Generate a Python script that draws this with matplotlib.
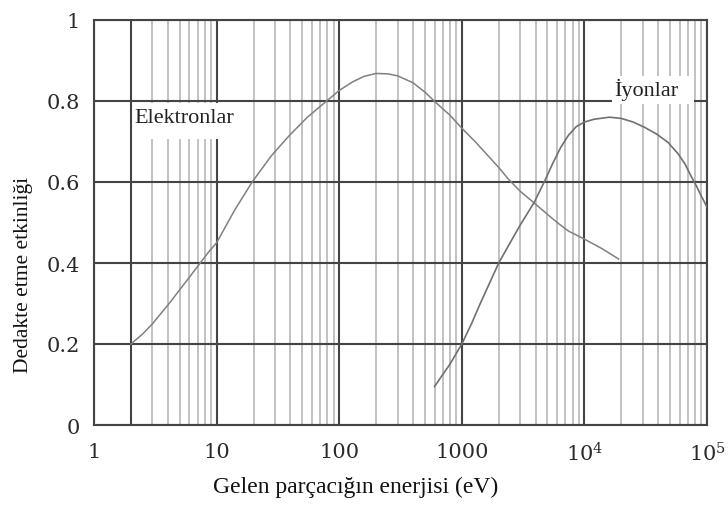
import matplotlib
matplotlib.use("Agg")
import matplotlib.pyplot as plt
from matplotlib.ticker import FixedLocator, FixedFormatter, LogLocator, NullFormatter
from matplotlib.patches import Rectangle

plt.rcParams['mathtext.fontset'] = 'dejavuserif'

# detection efficiency curves (energy in eV)
elektron_E = [2, 2.5, 3, 4.1, 6, 8.6, 10, 14, 19.5, 28, 39, 55, 79, 100, 130,
              160, 200, 250, 300, 400, 500, 610, 800, 1000, 1300, 1600, 2000,
              2400, 3000, 3900, 5000, 6000, 7400, 10000, 14000, 19000]
elektron_eff = [0.20, 0.225, 0.25, 0.30, 0.365, 0.427, 0.45, 0.53, 0.60, 0.665,
                0.714, 0.76, 0.80, 0.826, 0.848, 0.861, 0.868, 0.867, 0.862,
                0.845, 0.822, 0.797, 0.765, 0.733, 0.698, 0.668, 0.636, 0.607,
                0.577, 0.548, 0.52, 0.50, 0.479, 0.459, 0.435, 0.41]

iyon_E = [600, 700, 800, 1000, 1200, 1400, 1700, 2000, 2500, 3000, 3900, 4700,
          5500, 6400, 7400, 8600, 10000, 12000, 16000, 20000, 25000, 31000,
          39000, 48000, 58000, 66000, 74000, 82000, 90000, 100000]
iyon_eff = [0.095, 0.125, 0.15, 0.20, 0.25, 0.297, 0.353, 0.40, 0.452, 0.494,
            0.55, 0.60, 0.645, 0.685, 0.715, 0.737, 0.748, 0.755, 0.76, 0.757,
            0.748, 0.735, 0.718, 0.698, 0.67, 0.645, 0.615, 0.59, 0.565, 0.538]

x_ticks = [1, 10, 100, 1000, 1e4, 1e5]
x_labels = ['1', '10', '100', '1000', r'$10^4$', r'$10^5$']
y_ticks = [0, 0.2, 0.4, 0.6, 0.8, 1.0]
y_labels = ['0', '0.2', '0.4', '0.6', '0.8', '1']

fig = plt.figure(figsize=(7.28, 5.06), dpi=100)
ax = fig.add_axes([94 / 728, 1 - 426 / 506, 613 / 728, 405 / 506])
ax.set_xscale('log')
ax.set_xlim(1, 1e5)
ax.set_ylim(0, 1)

# grid: light minor verticals, dark decades and 0.2 steps
ax.xaxis.set_minor_locator(LogLocator(base=10, subs=range(2, 10)))
ax.xaxis.set_minor_formatter(NullFormatter())
ax.grid(which='minor', axis='x', color='#bdbdbd', lw=1.3, zorder=1)
ax.grid(which='major', axis='both', color='#444444', lw=1.5, zorder=2)
ax.axvline(2, color='#444444', lw=1.5, zorder=2)
ax.set_axisbelow(True)

for s in ax.spines.values():
    s.set_color('#444444')
    s.set_linewidth(1.5)

ax.xaxis.set_major_locator(FixedLocator(x_ticks))
ax.xaxis.set_major_formatter(FixedFormatter(x_labels))
ax.set_yticks(y_ticks)
ax.set_yticklabels(y_labels)
ax.tick_params(which='both', length=0)
ax.tick_params(axis='x', pad=12)
ax.tick_params(axis='y', pad=10)
for lab in ax.get_xticklabels() + ax.get_yticklabels():
    lab.set_fontfamily('DejaVu Serif')
    lab.set_fontsize(15)
    lab.set_color('#2a2a2a')

# white boxes behind the curve names
ax.add_patch(Rectangle((2.07, 0.706), 17.4 - 2.07, 0.795 - 0.706,
                       facecolor='white', edgecolor='none', zorder=3))
ax.add_patch(Rectangle((16900, 0.793), 78000 - 16900, 0.862 - 0.793,
                       facecolor='white', edgecolor='none', zorder=3))

ax.plot(elektron_E, elektron_eff, color='#808080', lw=1.1, zorder=4)
ax.plot(iyon_E, iyon_eff, color='#707070', lw=1.2, zorder=4)

ax.text(2.15, 0.76, 'Elektronlar', fontfamily='Liberation Serif', fontsize=16,
        color='#222222', va='center', ha='left', zorder=5)
ax.text(17500, 0.83, 'İyonlar', fontfamily='Liberation Serif', fontsize=16,
        color='#222222', va='center', ha='left', zorder=5)

fig.text(356 / 728, 1 - 487 / 506, 'Gelen parçacığın enerjisi (eV)',
         fontfamily='Liberation Serif', fontsize=17, color='#111111',
         ha='center', va='center')
fig.text(24 / 728, 1 - 275 / 506, 'Dedakte etme etkinliği',
         fontfamily='Liberation Serif', fontsize=15.5, color='#111111',
         ha='center', va='center', rotation=90)

fig.savefig('out.png', dpi=100)
